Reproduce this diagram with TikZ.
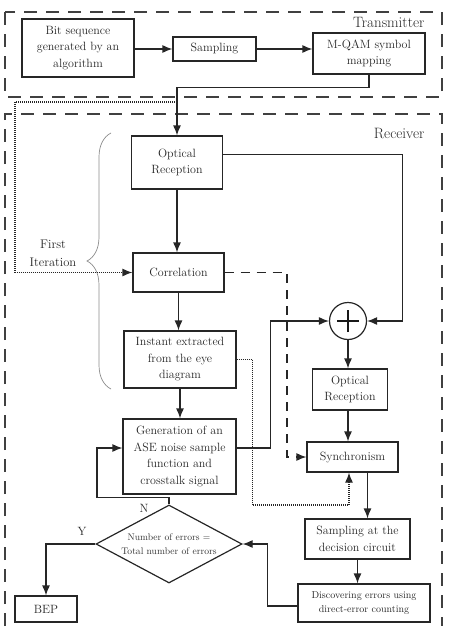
\documentclass[tikz,border=0pt]{standalone}
\usepackage{fontspec}
\usetikzlibrary{arrows.meta,shapes.geometric,decorations.pathreplacing,calc}

\tikzset{
    blk/.style={draw=black!85, line width=1.2pt, align=center, inner sep=0pt,
        text=black!85, font=\fontsize{12}{16.5}\selectfont},
    arr/.style={-{Latex[length=10pt,width=8pt]}, line width=1.2pt, draw=black!85},
    frame/.style={draw=black!75, line width=1.4pt, dash pattern=on 13pt off 9pt},
    dots/.style={draw=black!70, line width=0.8pt, dash pattern=on 1pt off 1pt},
    dashln/.style={draw=black!75, line width=1.2pt, dash pattern=on 9pt off 7pt},
    dia/.style={draw=black!85, line width=1.2pt, diamond, inner sep=0pt,
        minimum width=146pt, minimum height=78pt},
}

\begin{document}
\begin{tikzpicture}[x=1pt,y=-1pt]
    \useasboundingbox (0,0) rectangle (451,629);

    % transmitter and receiver frames
    \draw[frame] (5,12) rectangle (442,97);
    \draw[frame] (5,626) -- (5,114) -- (442,114) -- (442,626);
    \node[anchor=east, font=\fontsize{15}{15}\selectfont, text=black!85] (tx) at (428,22) {Transmitter};
    \node[anchor=east, font=\fontsize{15}{15}\selectfont, text=black!85] (rx) at (428,133) {Receiver};

    % transmitter
    \node[blk, minimum width=112pt, minimum height=58pt] (bits) at (78,48) {Bit sequence\\generated by an\\algorithm};
    \node[blk, minimum width=83pt, minimum height=24pt] (samp) at (214.5,49) {Sampling};
    \node[blk, minimum width=112pt, minimum height=41pt] (mqam) at (369,53.5) {M-QAM symbol\\mapping};

    % receiver, first column
    \node[blk, minimum width=91pt, minimum height=53pt] (opt1) at (177,162.5) {Optical\\Reception};
    \node[blk, minimum width=91pt, minimum height=39pt] (corr) at (178.5,272.5) {Correlation};
    \node[blk, minimum width=112pt, minimum height=57pt] (inst) at (180,359.5) {Instant extracted\\from the eye\\diagram};
    \node[blk, minimum width=113pt, minimum height=75pt] (gen) at (179.5,456.5) {Generation of an\\ASE noise sample\\function and\\crosstalk signal};

    % receiver, second column
    \node[draw=black!85, line width=1.2pt, circle, minimum size=37pt, inner sep=0pt] (plus) at (348,321) {};
    \draw[line width=2.4pt, black!90] ([xshift=-11pt]plus.center) -- ([xshift=11pt]plus.center);
    \draw[line width=2.4pt, black!90] ([yshift=-11pt]plus.center) -- ([yshift=11pt]plus.center);
    \node[blk, minimum width=75pt, minimum height=41pt] (opt2) at (350,389.5) {Optical\\Reception};
    \node[blk, minimum width=91pt, minimum height=30pt] (sync) at (352.5,457) {Synchronism};
    \node[blk, minimum width=105pt, minimum height=40pt] (sdec) at (357.5,539) {Sampling at the\\decision circuit};
    \node[blk, minimum width=132pt, minimum height=38pt, font=\fontsize{10}{14}\selectfont] (disc) at (364,603) {Discovering errors using\\direct-error counting};

    % decision and result
    \node[dia, label={[align=center, text=black!80, font=\fontsize{9.6}{14}\selectfont]center:Number of errors =\\Total number of errors}] (dec) at (169,544) {};
    \node[blk, minimum width=62pt, minimum height=26pt] (bep) at (46,609) {BEP};
    \node[text=black!85, font=\fontsize{12}{12}\selectfont] (nlab) at (144,508) {N};
    \node[text=black!85, font=\fontsize{12}{12}\selectfont] (ylab) at (82,531) {Y};

    % first iteration brace
    \draw[black!45, line width=0.7pt, decorate, decoration={brace, amplitude=24pt}] (111,389) -- (111,133);
    \node[align=center, text=black!85, font=\fontsize{12.5}{18}\selectfont] (first) at (53,253) {First\\Iteration};

    % connectors
    \coordinate (tap) at (177,102);
    \coordinate (dl) at (15,102);
    \coordinate (dc) at (287,350);
    \coordinate (dq) at (349,505);
    \coordinate (nc) at (97,448);

    \draw[arr] (bits.east |- samp.west) -- (samp.west);
    \draw[arr] (samp.east) -- (samp.east -| mqam.west);
    \draw[arr] (mqam.south) -- ++(0,13) -| (opt1.north);
    \draw[dots, arr] (tap) -- (dl) |- (corr.west);
    \draw[arr] (opt1.south) -- (opt1.south |- corr.north);
    \draw[arr] ([yshift=8pt]opt1.east) -| ([xshift=35pt]plus.east) -- (plus.east);
    \draw[dashln, arr] (corr.east) -| (dc) |- (sync.west);
    \draw[arr] (corr.south) -- (corr.south |- inst.north);
    \draw[dots, arr] (inst.east) -- ++(16,0) |- (dq) -- (dq |- sync.south);
    \draw[arr] (inst.south) -- (inst.south |- gen.north);
    \draw[arr] ([yshift=8.5pt]gen.east) -- ++(34,0) |- (plus.west);
    \draw[arr] (plus.south) -- (plus.south |- opt2.north);
    \draw[arr] (plus.south |- opt2.south) -- (plus.south |- sync.north);
    \draw[arr] ([xshift=15pt]sync.south) -- ([xshift=15pt]sync.south |- sdec.north);
    \draw[arr] (sdec.south) -- (sdec.south |- disc.north);
    \draw[arr] ([yshift=-3pt]disc.west) -| ([xshift=25pt]dec.east) -- (dec.east);
    \draw[arr] (dec.north) -- ++(0,-7) -| (nc) -- (nc -| gen.west);
    \draw[arr] (dec.west) -| (bep.north);
\end{tikzpicture}
\end{document}
